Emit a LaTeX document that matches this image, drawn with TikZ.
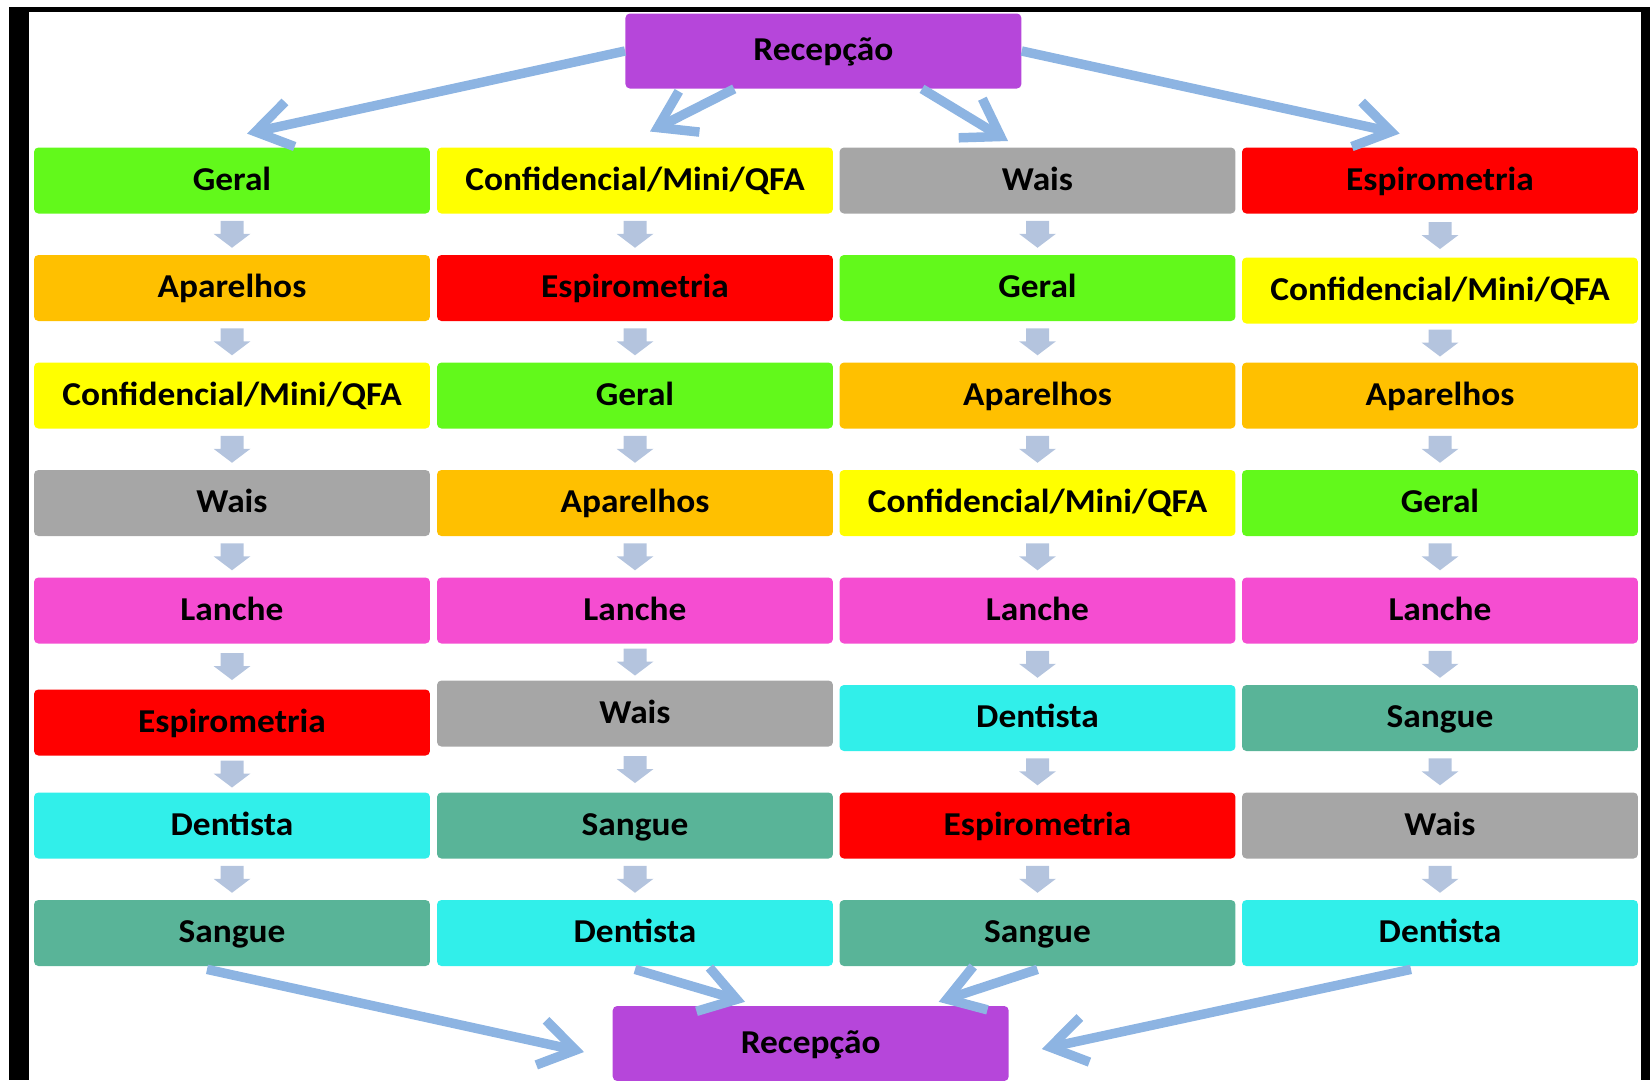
\documentclass[tikz,border=0pt]{standalone}
\usepackage{fontspec}
\setmainfont{Carlito}[FakeStretch=1.06]
\usetikzlibrary{arrows.meta}
\usetikzlibrary{calc}

\definecolor{recep}{HTML}{B646DA}
\definecolor{geralc}{HTML}{62F91B}
\definecolor{confc}{HTML}{FFFF00}
\definecolor{waisc}{HTML}{A6A6A6}
\definecolor{espc}{HTML}{FF0000}
\definecolor{aparc}{HTML}{FFC000}
\definecolor{lanchec}{HTML}{F54DD1}
\definecolor{dentc}{HTML}{31EFEA}
\definecolor{sanguec}{HTML}{59B498}
\definecolor{flowc}{HTML}{8DB4E2}
\definecolor{stepc}{HTML}{B4C4DE}

\tikzset{
  box/.style={rounded corners=2.5pt, minimum width=7.92cm, minimum height=1.32cm,
    inner sep=0pt, text height=14pt, text depth=3pt,
    font=\fontsize{19}{22}\selectfont\bfseries},
  rec/.style={box, fill=recep, minimum height=1.5cm},
  geral/.style={box, fill=geralc},
  conf/.style={box, fill=confc},
  wais/.style={box, fill=waisc},
  esp/.style={box, fill=espc},
  apar/.style={box, fill=aparc},
  lanche/.style={box, fill=lanchec},
  dent/.style={box, fill=dentc},
  sangue/.style={box, fill=sanguec},
  flow/.style={draw=flowc, line width=5.4pt, -{Straight Barb[length=20pt,width=26pt]}},
  down/.pic={\fill[stepc] (-11.5,-13.5) -- (11.5,-13.5) -- (11.5,-0.5) -- (18.5,-0.5)
    -- (0,13.5) -- (-18.5,-0.5) -- (-11.5,-0.5) -- cycle;}
}

\begin{document}
\begin{tikzpicture}[x=0.02cm,y=-0.02cm]
  \useasboundingbox (0,0) rectangle (1650,1080);
  \fill[black] (9,7) rectangle (29,1080);
  \fill[black] (9,7) rectangle (1650,12);
  \fill[black] (1641,7) rectangle (1650,1080);

  \node[rec] (top) at (823.4,51) {Recepção};
  \node[rec] (bot) at (810.7,1043.5) {Recepção};

  \node[geral]  (n11) at (232,180.5) {Geral};
  \node[apar]   (n12) at (232,288) {Aparelhos};
  \node[conf]   (n13) at (232,395.5) {Confidencial/Mini/QFA};
  \node[wais]   (n14) at (232,503) {Wais};
  \node[lanche] (n15) at (232,610.5) {Lanche};
  \node[esp]    (n16) at (232,722.5) {Espirometria};
  \node[dent]   (n17) at (232,825.5) {Dentista};
  \node[sangue] (n18) at (232,933) {Sangue};

  \node[conf]   (n21) at (635,180.5) {Confidencial/Mini/QFA};
  \node[esp]    (n22) at (635,288) {Espirometria};
  \node[geral]  (n23) at (635,395.5) {Geral};
  \node[apar]   (n24) at (635,503) {Aparelhos};
  \node[lanche] (n25) at (635,610.5) {Lanche};
  \node[wais]   (n26) at (635,713.5) {Wais};
  \node[sangue] (n27) at (635,825.5) {Sangue};
  \node[dent]   (n28) at (635,933) {Dentista};

  \node[wais]   (n31) at (1037.5,180.5) {Wais};
  \node[geral]  (n32) at (1037.5,288) {Geral};
  \node[apar]   (n33) at (1037.5,395.5) {Aparelhos};
  \node[conf]   (n34) at (1037.5,503) {Confidencial/Mini/QFA};
  \node[lanche] (n35) at (1037.5,610.5) {Lanche};
  \node[dent]   (n36) at (1037.5,718) {Dentista};
  \node[esp]    (n37) at (1037.5,825.5) {Espirometria};
  \node[sangue] (n38) at (1037.5,933) {Sangue};

  \node[esp]    (n41) at (1440,180.5) {Espirometria};
  \node[conf]   (n42) at (1440,290.5) {Confidencial/Mini/QFA};
  \node[apar]   (n43) at (1440,395.5) {Aparelhos};
  \node[geral]  (n44) at (1440,503) {Geral};
  \node[lanche] (n45) at (1440,610.5) {Lanche};
  \node[sangue] (n46) at (1440,718) {Sangue};
  \node[wais]   (n47) at (1440,825.5) {Wais};
  \node[dent]   (n48) at (1440,933) {Dentista};

  \foreach \cc in {1,...,4}
    \foreach \ra/\rb in {1/2,2/3,3/4,4/5,5/6,6/7,7/8}
      \pic at ($(n\cc\ra.south)!.5!(n\cc\rb.north)$) {down};

  \coordinate (e1) at (247,133.6);
  \coordinate (e2) at (650,131.5);
  \coordinate (e3) at (1008,141);
  \coordinate (e4) at (1399.6,133.6);
  \coordinate (f1) at (584,1052);
  \coordinate (f2) at (745,1001.8);
  \coordinate (f3) at (938.7,1001.8);
  \coordinate (f4) at (1041.8,1049);

  \draw[flow] (top.west) -- (e1);
  \draw[flow] (top.-157) -- (e2);
  \draw[flow] (top.-21) -- (e3);
  \draw[flow] (top.east) -- (e4);
  \draw[flow] ([shift={(-25,3)}]n18.south) -- (f1);
  \draw[flow] ([shift={(0,3)}]n28.south) -- (f2);
  \draw[flow] ([shift={(0,3)}]n38.south) -- (f3);
  \draw[flow] ([shift={(-29,3)}]n48.south) -- (f4);
\end{tikzpicture}
\end{document}
